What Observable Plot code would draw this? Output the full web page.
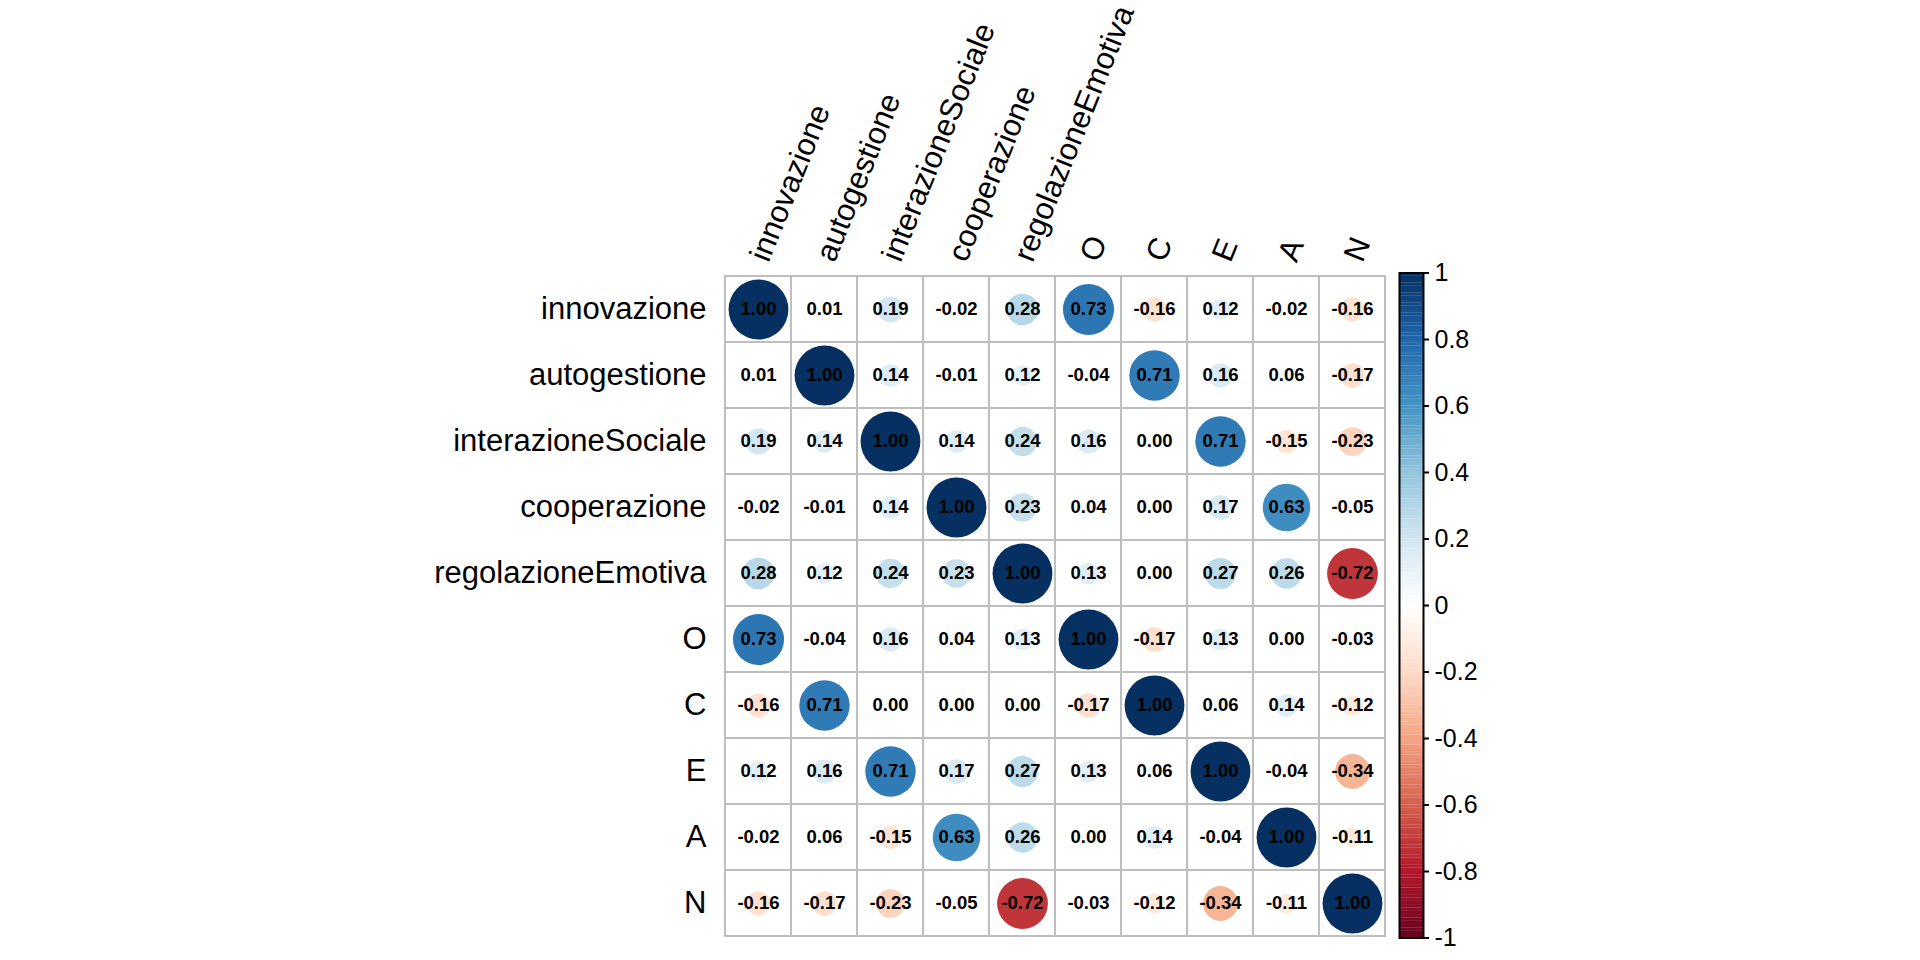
<!DOCTYPE html>
<html>
<head>
<meta charset="utf-8">
<script src="https://cdn.jsdelivr.net/npm/d3@7"></script>
<script src="https://cdn.jsdelivr.net/npm/@observablehq/plot@0.6"></script>
<style>
  html, body { margin: 0; padding: 0; background: #fff; }
  #wrap { position: relative; width: 1920px; height: 960px; overflow: hidden; }
  #wrap > svg { position: absolute; left: 0; top: 0; }
</style>
</head>
<body>
<div id="wrap"></div>
<script>
// ---- data ----
const variables = ["innovazione", "autogestione", "interazioneSociale", "cooperazione", "regolazioneEmotiva", "O", "C", "E", "A", "N"];
const rowInnovazione        = [ 1.00,  0.01,  0.19, -0.02,  0.28,  0.73, -0.16,  0.12, -0.02, -0.16];
const rowAutogestione       = [ 0.01,  1.00,  0.14, -0.01,  0.12, -0.04,  0.71,  0.16,  0.06, -0.17];
const rowInterazioneSociale = [ 0.19,  0.14,  1.00,  0.14,  0.24,  0.16,  0.00,  0.71, -0.15, -0.23];
const rowCooperazione       = [-0.02, -0.01,  0.14,  1.00,  0.23,  0.04,  0.00,  0.17,  0.63, -0.05];
const rowRegolazioneEmotiva = [ 0.28,  0.12,  0.24,  0.23,  1.00,  0.13,  0.00,  0.27,  0.26, -0.72];
const rowO                  = [ 0.73, -0.04,  0.16,  0.04,  0.13,  1.00, -0.17,  0.13,  0.00, -0.03];
const rowC                  = [-0.16,  0.71,  0.00,  0.00,  0.00, -0.17,  1.00,  0.06,  0.14, -0.12];
const rowE                  = [ 0.12,  0.16,  0.71,  0.17,  0.27,  0.13,  0.06,  1.00, -0.04, -0.34];
const rowA                  = [-0.02,  0.06, -0.15,  0.63,  0.26,  0.00,  0.14, -0.04,  1.00, -0.11];
const rowN                  = [-0.16, -0.17, -0.23, -0.05, -0.72, -0.03, -0.12, -0.34, -0.11,  1.00];
const matrixRows = [rowInnovazione, rowAutogestione, rowInterazioneSociale, rowCooperazione, rowRegolazioneEmotiva, rowO, rowC, rowE, rowA, rowN];

const colorStops = [-1, -0.8, -0.6, -0.4, -0.2, 0, 0.2, 0.4, 0.6, 0.8, 1];
const colorRange = ["#67001F", "#B2182B", "#D6604D", "#F4A582", "#FDDBC7", "#FFFFFF", "#D1E5F0", "#92C5DE", "#4393C3", "#2166AC", "#053061"];
const colorbarTicks = [-1, -0.8, -0.6, -0.4, -0.2, 0, 0.2, 0.4, 0.6, 0.8, 1];

// ---- build table ----
const cells = [];
matrixRows.forEach((vals, i) => vals.forEach((v, j) => cells.push({row: variables[i], col: variables[j], value: v})));

const FONT = "'Liberation Sans', Arial, sans-serif";
const fmt2 = v => v.toFixed(2).replace("−", "-");
const colorScale = {type: "linear", domain: colorStops, range: colorRange, interpolate: "rgb", clamp: true};

const W = 1920, H = 960;
const gridLeft = 722, gridRight = 1387, gridTop = 273, gridBottom = 938;
const cellSize = (gridRight - gridLeft) / variables.length;

const main = Plot.plot({
  width: W, height: H,
  marginLeft: gridLeft, marginRight: W - gridRight, marginTop: gridTop, marginBottom: H - gridBottom,
  style: {fontFamily: FONT, background: "transparent"},
  x: {type: "band", domain: variables, padding: 0, axis: null},
  y: {type: "band", domain: variables, padding: 0, axis: null},
  color: colorScale,
  r: {type: "sqrt", domain: [0, 1], range: [0, cellSize * 0.45]},
  marks: [
    Plot.cell(cells, {x: "col", y: "row", fill: "white", stroke: "#BEBEBE", strokeWidth: 2, inset: 0}),
    Plot.dot(cells, {x: "col", y: "row", r: d => Math.abs(d.value), fill: "value", stroke: null}),
    Plot.text(cells, {x: "col", y: "row", text: d => fmt2(d.value), fill: "black", fontWeight: "bold", fontSize: 18.5, fontFamily: FONT}),
    Plot.text(variables, {y: d => d, frameAnchor: "left", textAnchor: "end", dx: -16, fontSize: 31, fill: "black", fontFamily: FONT}),
    Plot.text(variables, {x: d => d, frameAnchor: "top", textAnchor: "start", lineAnchor: "bottom", rotate: -68, dx: 10, dy: -10, fontSize: 31, fill: "black", fontFamily: FONT})
  ]
});

const steps = d3.range(0, 200).map(i => -1 + i * 0.01);
const bar = Plot.plot({
  width: W, height: H,
  marginLeft: 1399, marginRight: W - 1423, marginTop: 272.5, marginBottom: H - 937.5,
  style: {fontFamily: FONT, background: "transparent", pointerEvents: "none"},
  x: {type: "linear", domain: [0, 1], axis: null},
  y: {type: "linear", domain: [-1, 1]},
  color: colorScale,
  marks: [
    Plot.rect(steps, {x1: 0, x2: 1, y1: d => d, y2: d => d + 0.0105, fill: d => d + 0.005}),
    Plot.frame({stroke: "black", strokeWidth: 2}),
    Plot.axisY({anchor: "right", ticks: colorbarTicks, tickSize: 5, tickPadding: 6, strokeWidth: 2,
      tickFormat: d => String(Math.round(d * 10) / 10).replace("−", "-"), fontSize: 25, fill: "black", label: null, textStroke: null})
  ]
});

const wrap = document.getElementById("wrap");
wrap.appendChild(main);
wrap.appendChild(bar);
</script>
</body>
</html>
